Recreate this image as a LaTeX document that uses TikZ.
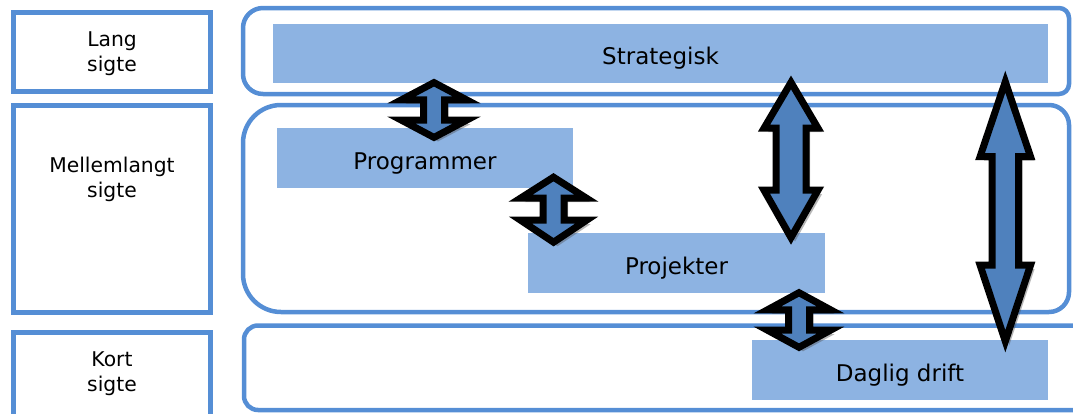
\documentclass[tikz,border=0pt]{standalone}
\usepackage{fontspec}
\setmainfont{DejaVu Sans}
\usetikzlibrary{shadows}
\definecolor{boxline}{HTML}{558ED5}
\definecolor{barfill}{HTML}{8DB3E2}
\definecolor{arrfill}{HTML}{4F81BD}
\newcommand\udarrow[7]{%
  \draw[udarr] (#1,#2) -- (#1+#4,#6) -- (#1+#5,#6) -- (#1+#5,#7) -- (#1+#4,#7)
    -- (#1,#3) -- (#1-#4,#7) -- (#1-#5,#7) -- (#1-#5,#6) -- (#1-#4,#6) -- cycle;}
\begin{document}
\begin{tikzpicture}[x=1pt,y=-1pt,
  leftbox/.style={draw=boxline,line width=5pt},
  rbox/.style={draw=boxline,line width=4.5pt},
  bar/.style={fill=barfill,draw=none,inner sep=0pt,text height=30pt,text depth=7.4pt,
    font=\fontsize{23}{28}\selectfont},
  lefttext/.style={inner sep=0pt,anchor=base,font=\fontsize{20.3}{24.7}\selectfont},
  udarr/.style={draw=black,line width=7pt,fill=arrfill,line join=miter,
    drop shadow={shadow xshift=4pt,shadow yshift=-4pt,opacity=0.4,fill=black!70}}]
\useasboundingbox (0,0) rectangle (1073,413);
\clip (0,0) rectangle (1073,413);
% left column boxes
\draw[leftbox] (13.5,12.5) rectangle (210.5,91);
\draw[leftbox] (13.5,105.5) rectangle (210.5,312.5);
\draw[leftbox] (13.5,332.5) rectangle (210.5,425);
\node[lefttext] (lang) at (112,46.7) {\begin{tabular}[t]{@{}c@{}}Lang\\sigte\end{tabular}};
\node[lefttext] (mellem) at (112,172.3) {\begin{tabular}[t]{@{}c@{}}Mellemlangt\\sigte\end{tabular}};
\node[lefttext] (kort) at (112,366.7) {\begin{tabular}[t]{@{}c@{}}Kort\\sigte\end{tabular}};
% right rounded boxes
\draw[rbox] (263,8) -- (1059,8) arc[start angle=270,end angle=360,radius=10]
  -- (1069,84) arc[start angle=0,end angle=90,radius=10]
  -- (263,94) arc[start angle=90,end angle=180,radius=20]
  -- (243,28) arc[start angle=180,end angle=270,radius=20] -- cycle;
\draw[rbox] (281,105) -- (1049,105) arc[start angle=270,end angle=360,radius=20]
  -- (1069,292) arc[start angle=0,end angle=90,radius=20]
  -- (281,312) arc[start angle=90,end angle=180,radius=38]
  -- (243,143) arc[start angle=180,end angle=270,radius=38] -- cycle;
\draw[rbox] (258,325.5) -- (1086,325.5) arc[start angle=270,end angle=360,radius=14]
  -- (1100,396) arc[start angle=0,end angle=90,radius=14]
  -- (258,410) arc[start angle=90,end angle=180,radius=14]
  -- (244,339.5) arc[start angle=180,end angle=270,radius=14] -- cycle;
% bars
\node[bar,minimum width=775pt,minimum height=59pt] (strat) at (660.5,53.5) {Strategisk};
\node[bar,minimum width=296pt,minimum height=60pt] (prog) at (425,158) {Programmer};
\node[bar,minimum width=297pt,minimum height=60pt] (proj) at (676.5,263) {Projekter};
\node[bar,minimum width=296pt,minimum height=60pt] (drift) at (900,370) {Daglig drift};
% double arrows
\udarrow{434}{82.6}{137.4}{32.5}{10.5}{99.8}{120.2}
\udarrow{553.5}{177.2}{242.2}{33}{10.5}{198.2}{220.2}
\udarrow{799}{292.7}{347.3}{31.5}{10.5}{309.8}{330.2}
\udarrow{791}{82.4}{237.6}{27}{15}{128.2}{190.2}
\udarrow{1005.3}{81.7}{341.3}{25.2}{13.2}{156.5}{265.2}
\end{tikzpicture}
\end{document}
